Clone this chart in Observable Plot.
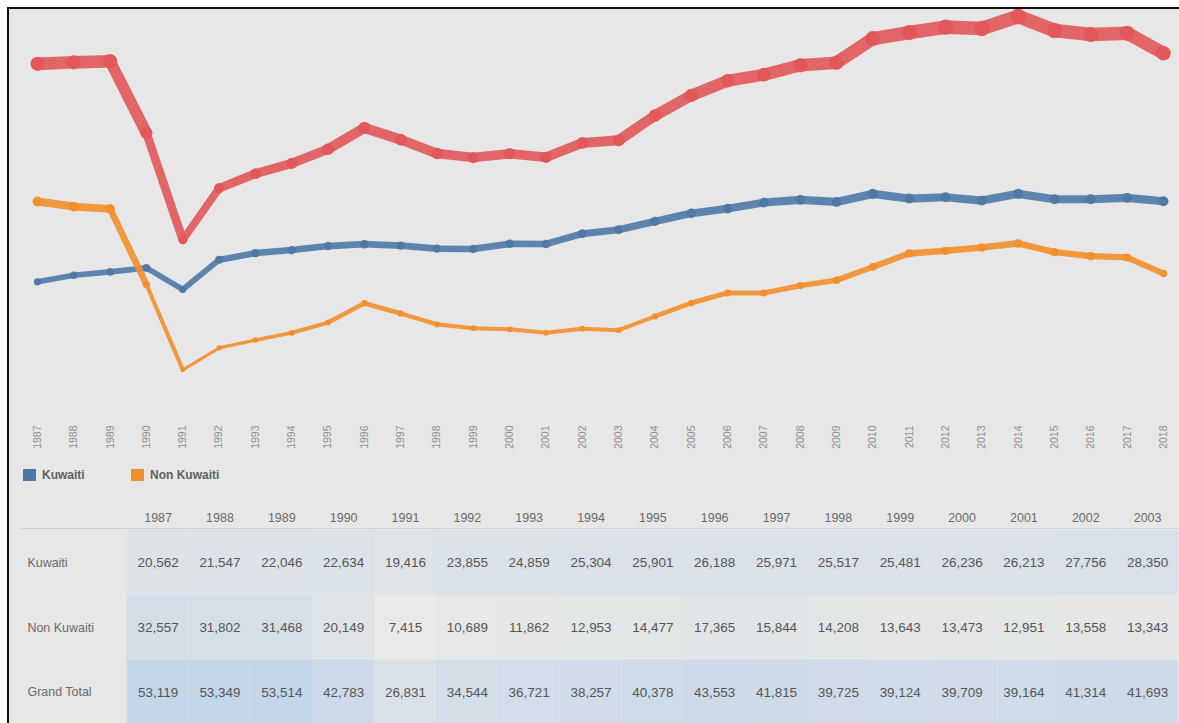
<!DOCTYPE html>
<html>
<head>
<meta charset="utf-8">
<script src="https://cdn.jsdelivr.net/npm/d3@7"></script>
<script src="https://cdn.jsdelivr.net/npm/@observablehq/plot@0.6"></script>
<style>
  html, body { margin: 0; padding: 0; background: #ffffff; }
  body { width: 1179px; height: 723px; overflow: hidden; position: relative; font-family: "Liberation Sans", Arial, sans-serif; }
  #frame { position: absolute; left: 7px; top: 7px; width: 1172px; height: 716px; box-sizing: border-box;
           border-left: 2px solid #111; border-top: 2px solid #111; background: #e7e7e7; overflow: hidden; }
  #chart { position: absolute; left: 0; top: 0; }
  #legend { position: absolute; left: 14px; top: 459px; height: 14px; display: flex; align-items: center;
            font-size: 12px; font-weight: bold; color: #606060; }
  .sw { width: 13px; height: 12px; display: inline-block; margin-right: 6px; }
  .item { display: flex; align-items: center; }
  #table { position: absolute; left: 0; top: 486px; }
  #hline { position: absolute; left: 11px; top: 519px; width: 1170px; height: 1px; background: #cfd2d6; }
</style>
</head>
<body>
<div id="frame">
  <div id="chart"></div>
  <div id="legend">
    <div class="item" style="width:108px"><span class="sw" style="background:#4e79a7"></span>Kuwaiti</div>
    <div class="item"><span class="sw" style="background:#f28e2b"></span>Non Kuwaiti</div>
  </div>
  <div id="table"></div>
  <div id="hline"></div>
</div>
<script>
const years = [1987,1988,1989,1990,1991,1992,1993,1994,1995,1996,1997,1998,1999,2000,2001,2002,2003,
               2004,2005,2006,2007,2008,2009,2010,2011,2012,2013,2014,2015,2016,2017,2018];
const kuwaiti = [20562,21547,22046,22634,19416,23855,24859,25304,25901,26188,25971,25517,25481,26236,26213,27756,28350,
                 29600,30800,31500,32400,32800,32500,33700,33000,33200,32700,33700,32900,32900,33100,32600];
const nonKuwaiti = [32557,31802,31468,20149,7415,10689,11862,12953,14477,17365,15844,14208,13643,13473,12951,13558,13343,
                    15400,17400,18900,18900,20000,20800,22800,24800,25200,25700,26300,25000,24400,24200,21800];
const grandTotal = [53119,53349,53514,42783,26831,34544,36721,38257,40378,43553,41815,39725,39124,39709,39164,41314,41693,
                    45400,48400,50600,51500,52900,53300,56900,57800,58600,58400,60200,58100,57500,57700,54700];
const seriesNames = ["Kuwaiti", "Non Kuwaiti", "Grand Total"];
const seriesColors = ["#4e79a7", "#f28e2b", "#e15759"];
const tableYears = years.slice(0, 17);

const seriesValues = {"Kuwaiti": kuwaiti, "Non Kuwaiti": nonKuwaiti, "Grand Total": grandTotal};
const widthOf = v => 1 + v / 4600;

const marks = [];
for (const s of seriesNames) {
  const vals = seriesValues[s];
  const pts = years.map((y, i) => ({series: s, year: y, v: vals[i]}));
  const segs = pts.slice(1).map((p, i) => ({series: s, x1: pts[i].year, y1: pts[i].v, x2: p.year, y2: p.v,
                                            w: widthOf((pts[i].v + p.v) / 2)}));
  marks.push(Plot.link(segs, {x1: "x1", y1: "y1", x2: "x2", y2: "y2", stroke: "series",
                              strokeWidth: d => d.w, strokeLinecap: "round", strokeOpacity: 0.9}));
  marks.push(Plot.dot(pts, {x: "year", y: "v", r: "v", fill: "series", fillOpacity: 0.95, stroke: "none"}));
}

const chart = Plot.plot({
  width: 1170, height: 480,
  marginLeft: 28, marginRight: 16, marginTop: 2, marginBottom: 70,
  style: {background: "transparent", color: "#8e8e8e", fontFamily: "'Liberation Sans', Arial, sans-serif"},
  x: {type: "linear", domain: [1987, 2018], axis: null},
  y: {domain: [0, 60940], axis: null},
  r: {type: "linear", domain: [0, 60000], range: [1.5, 7.8]},
  color: {domain: seriesNames, range: seriesColors},
  marks: [
    Plot.axisX({ticks: years, tickFormat: d => String(d), tickRotate: -90, tickSize: 0, tickPadding: 6, fontSize: 10.5, label: null}),
    ...marks
  ]
});
document.getElementById("chart").append(chart);

const tableData = [];
for (const s of seriesNames) {
  tableYears.forEach((y, i) => tableData.push({row: s, year: String(y), value: seriesValues[s][i]}));
}
const fmt = d3.format(",");
const table = Plot.plot({
  width: 1173, height: 232,
  marginLeft: 116, marginRight: 0, marginTop: 35, marginBottom: 2,
  style: {background: "transparent", color: "#6a6a6a", fontFamily: "'Liberation Sans', Arial, sans-serif", fontSize: "12.5px"},
  x: {type: "band", domain: tableYears.map(String), padding: 0, axis: null},
  y: {type: "band", domain: seriesNames, padding: 0, axis: null},
  color: {type: "linear", domain: [7000, 53000], range: ["#e9e9e7", "#c4d6ea"]},
  marks: [
    Plot.cell(tableData, {x: "year", y: "row", fill: "value"}),
    Plot.text(tableData, {x: "year", y: "row", text: d => fmt(d.value), fill: "#555555", fontSize: 13.5}),
    Plot.axisX({anchor: "top", tickSize: 0, tickPadding: 8, fontSize: 12.5, label: null}),
    Plot.axisY({anchor: "left", tickSize: 0, tickPadding: 98, textAnchor: "start", fontSize: 12.5, label: null})
  ]
});
document.getElementById("table").append(table);
</script>
</body>
</html>
